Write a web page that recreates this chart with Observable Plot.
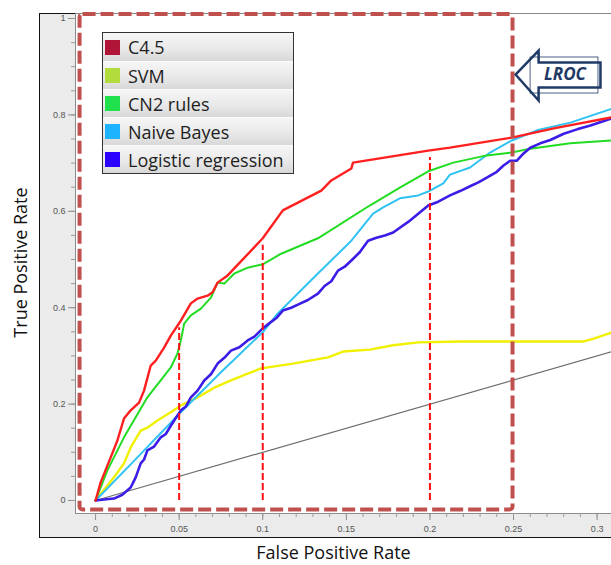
<!DOCTYPE html>
<html>
<head>
<meta charset="utf-8">
<script src="https://cdn.jsdelivr.net/npm/d3@7"></script>
<script src="https://cdn.jsdelivr.net/npm/@observablehq/plot@0.6"></script>
<style>
  html, body { margin: 0; padding: 0; background: #fff; }
  #wrap { position: relative; width: 611px; height: 565px; overflow: hidden; }
  #legend { position: absolute; left: 102px; top: 32px; width: 190px; border: 1px solid #333;
    font-family: "Open Sans", sans-serif; font-size: 18px; color: #1e1e1e; }
  .row { height: 27px; display: flex; align-items: center; border-top: 1px solid #fafafa;
    background: linear-gradient(#f6f6f6, #e9e9e9 55%, #d8d8d8); box-sizing: content-box; white-space: nowrap; }
  .row:first-child { border-top: none; height: 28px; }
  .sw { width: 15px; height: 15px; margin-left: 2px; margin-right: 8px; flex: none; }
</style>
</head>
<body>
<div id="wrap"></div>
<script>
// ---------- data ----------
const seriesNames = ["C4.5", "SVM", "CN2 rules", "Naive Bayes", "Logistic regression"];
const lineColors = ["#ff1f1f", "#f0f000", "#22dc22", "#30c2f2", "#3a1de6"];
const legendColors = ["#b01538", "#b2dc3b", "#20e04c", "#1db3ff", "#2c00ff"];

const c45Fpr = [0,0.003,0.009,0.013,0.017,0.021,0.026,0.029,0.033,0.036,0.041,0.045,0.051,0.057,0.061,0.067,0.070,0.073,0.079,0.100,0.112,0.135,0.141,0.153,0.154,0.199,0.212,0.249,0.274,0.309];
const c45Tpr = [0,0.037,0.089,0.124,0.170,0.187,0.203,0.228,0.280,0.290,0.317,0.342,0.373,0.409,0.419,0.425,0.432,0.452,0.467,0.544,0.602,0.643,0.664,0.689,0.701,0.726,0.732,0.753,0.772,0.795];

const svmFpr = [0,0.011,0.017,0.021,0.027,0.031,0.037,0.045,0.051,0.061,0.071,0.081,0.091,0.099,0.118,0.139,0.148,0.164,0.178,0.193,0.218,0.292,0.298,0.309];
const svmTpr = [0,0.048,0.077,0.110,0.145,0.151,0.166,0.183,0.197,0.214,0.234,0.249,0.263,0.274,0.284,0.297,0.309,0.313,0.322,0.328,0.330,0.330,0.336,0.349];

const cn2Fpr = [0,0.007,0.017,0.031,0.045,0.049,0.051,0.053,0.057,0.063,0.069,0.073,0.077,0.083,0.091,0.100,0.111,0.133,0.164,0.182,0.199,0.214,0.234,0.249,0.260,0.284,0.309];
const cn2Tpr = [0,0.062,0.131,0.214,0.276,0.305,0.332,0.367,0.384,0.398,0.421,0.452,0.450,0.471,0.483,0.490,0.512,0.544,0.612,0.649,0.683,0.701,0.716,0.722,0.730,0.741,0.747];

const nbFpr = [0,0.021,0.051,0.075,0.100,0.109,0.133,0.153,0.166,0.172,0.182,0.193,0.199,0.208,0.212,0.224,0.236,0.249,0.264,0.284,0.309];
const nbTpr = [0,0.075,0.183,0.266,0.349,0.388,0.471,0.539,0.595,0.608,0.627,0.633,0.641,0.658,0.676,0.691,0.722,0.747,0.768,0.784,0.813];

const lrFpr = [0,0.005,0.011,0.016,0.021,0.024,0.027,0.029,0.031,0.035,0.039,0.042,0.045,0.047,0.051,0.054,0.057,0.061,0.065,0.069,0.073,0.077,0.081,0.086,0.091,0.095,0.100,0.104,0.108,0.112,0.117,0.122,0.127,0.133,0.137,0.141,0.145,0.149,0.153,0.158,0.163,0.168,0.173,0.178,0.182,0.187,0.193,0.199,0.205,0.212,0.218,0.224,0.229,0.234,0.240,0.244,0.248,0.252,0.256,0.260,0.266,0.272,0.280,0.288,0.296,0.309];
const lrTpr = [0,0.002,0.004,0.012,0.027,0.048,0.077,0.085,0.104,0.112,0.131,0.138,0.155,0.166,0.187,0.195,0.214,0.228,0.249,0.262,0.284,0.296,0.311,0.318,0.332,0.340,0.357,0.368,0.378,0.394,0.400,0.408,0.416,0.429,0.445,0.455,0.477,0.485,0.498,0.515,0.539,0.545,0.550,0.556,0.566,0.578,0.595,0.612,0.620,0.633,0.642,0.652,0.660,0.670,0.682,0.695,0.705,0.705,0.720,0.732,0.741,0.748,0.761,0.770,0.778,0.793];

const diagonal = [0, 0.31];
const markerFpr = [0.05, 0.1, 0.2];
const markerTpr = [0.375, 0.546, 0.728];
const lrocBox = {fpr: [0, 0.25], tpr: [0, 1]};

const xTicks = [0, 0.05, 0.1, 0.15, 0.2, 0.25, 0.3];
const xMinor = d3.range(0, 31).map(i => i / 100);
const yTicks = [0, 0.2, 0.4, 0.6, 0.8, 1];
const yMinor = d3.range(0, 21).map(i => i / 20);

// LROC arrow annotation (data units)
const arrowFpr = [0.2512, 0.2650, 0.2650, 0.3020, 0.3020, 0.2650, 0.2650, 0.2512];
const arrowTpr = [0.8838, 0.9336, 0.9087, 0.9087, 0.8568, 0.8568, 0.8299, 0.8838];
const arrowBox = {fpr: [0.2602, 0.3008], tpr: [0.8444, 0.9191]};
const arrowLabel = {fpr: 0.2808, tpr: 0.8830, text: "LROC"};

// ---------- tables ----------
const allFpr = [c45Fpr, svmFpr, cn2Fpr, nbFpr, lrFpr];
const allTpr = [c45Tpr, svmTpr, cn2Tpr, nbTpr, lrTpr];
const curves = seriesNames.map((name, i) => allFpr[i].map((x, j) => ({name, x, y: allTpr[i][j]})));
const widths = [2.4, 2.4, 2.0, 2.0, 2.6];
const drawOrder = [1, 3, 2, 4, 0];

const fmt = d => String(+d.toFixed(2));
const navy = "#1f3a66";

const plot = Plot.plot({
  width: 611, height: 565,
  marginLeft: 75, marginRight: 0, marginTop: 13, marginBottom: 52,
  x: {domain: [-0.012, 0.3086]},
  y: {domain: [-0.027, 1.0104]},
  style: {fontFamily: "Liberation Sans, Arial, sans-serif", background: "white", overflow: "hidden"},
  marks: [
    Plot.frame({fill: "#ebebeb", stroke: "#111", strokeWidth: 1, insetLeft: -36, insetBottom: -24, insetRight: -6}),
    Plot.frame({fill: "white", stroke: "none"}),
    Plot.frame({anchor: "left", stroke: "#8c8c8c"}),
    Plot.frame({anchor: "bottom", stroke: "#8c8c8c"}),
    Plot.axisY(yTicks, {tickSize: 7, tickPadding: 3, fontSize: 9, color: "#555", stroke: "#8c8c8c", tickFormat: fmt, label: null}),
    Plot.axisY(yMinor, {tickSize: 4, stroke: "#9a9a9a", tickFormat: () => "", label: null}),
    Plot.axisX(xTicks, {tickSize: 7, tickPadding: 5, fontSize: 9, color: "#555", stroke: "#8c8c8c", tickFormat: fmt, label: null}),
    Plot.axisX(xMinor, {tickSize: 4, stroke: "#9a9a9a", tickFormat: () => "", label: null}),
    Plot.line(diagonal.map(v => ({x: v, y: v})), {x: "x", y: "y", stroke: "#6e6e6e", strokeWidth: 1.2, clip: true}),
    ...drawOrder.map(i => Plot.line(curves[i], {x: "x", y: "y", stroke: lineColors[i], strokeWidth: widths[i], clip: true, strokeLinejoin: "round"})),
    Plot.ruleX(markerFpr.map((x, i) => ({x, y: markerTpr[i]})), {x: "x", y1: 0, y2: "y", insetBottom: -8, stroke: "#ff1010", strokeWidth: 2, strokeDasharray: "7,3"}),
    Plot.rect([lrocBox], {x1: d => d.fpr[0], x2: d => d.fpr[1], y1: d => d.tpr[0], y2: d => d.tpr[1],
      insetLeft: -15.5, insetRight: 0.5, insetTop: -4, insetBottom: -9.5, rx: 3,
      fill: "none", stroke: "#c0504d", strokeWidth: 4, strokeDasharray: "13,5"}),
    Plot.line(arrowFpr.map((x, i) => ({x, y: arrowTpr[i]})), {x: "x", y: "y", fill: "white", stroke: navy, strokeWidth: 2.5, strokeLinejoin: "miter", strokeMiterlimit: 10}),
    Plot.rect([arrowBox], {x1: d => d.fpr[0], x2: d => d.fpr[1], y1: d => d.tpr[0], y2: d => d.tpr[1], fill: "none", stroke: navy, strokeWidth: 0.8}),
    Plot.text([arrowLabel], {x: "fpr", y: "tpr", text: "text", fontSize: 17, fontWeight: "bold", fontStyle: "italic", fill: navy, fontFamily: "Open Sans, sans-serif"}),
    Plot.text(["True Positive Rate"], {frameAnchor: "left", textAnchor: "middle", lineAnchor: "middle", rotate: -90, dx: -54, dy: -1, fontSize: 18, fill: "#111", fontFamily: "Open Sans, sans-serif"}),
    Plot.text(["False Positive Rate"], {frameAnchor: "bottom", textAnchor: "middle", lineAnchor: "middle", dy: 40, dx: -10, fontSize: 18, fill: "#111", fontFamily: "Open Sans, sans-serif"})
  ]
});

const wrap = document.getElementById("wrap");
wrap.appendChild(plot);

const legend = document.createElement("div");
legend.id = "legend";
seriesNames.forEach((name, i) => {
  const row = document.createElement("div");
  row.className = "row";
  const sw = document.createElement("span");
  sw.className = "sw";
  sw.style.background = legendColors[i];
  const label = document.createElement("span");
  label.textContent = name;
  row.appendChild(sw);
  row.appendChild(label);
  legend.appendChild(row);
});
wrap.appendChild(legend);
</script>
</body>
</html>
